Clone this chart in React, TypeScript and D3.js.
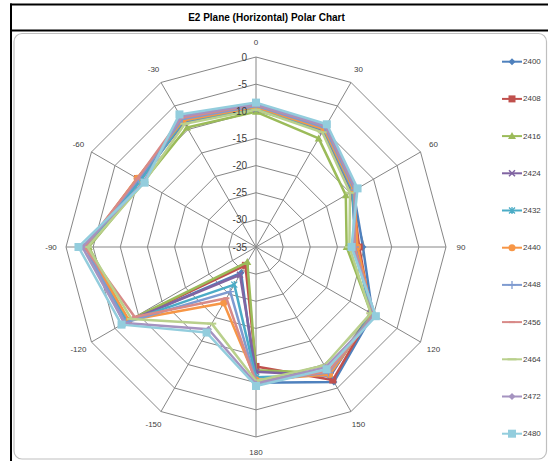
import React from "react";
import * as d3 from "d3";

const categories = ["0", "30", "60", "90", "120", "150", "180", "-150", "-120", "-90", "-60", "-30"];
const radialTicks = [0, -5, -10, -15, -20, -25, -30, -35];
const seriesNames = ["2400", "2408", "2416", "2424", "2432", "2440", "2448", "2456", "2464", "2472", "2480"];

const s2400 = [-9.3, -9.8, -14.3, -15.3, -10.2, -6.3, -10.0, -29.5, -7.0, -3.6, -9.8, -8.0];
const s2408 = [-9.5, -10.2, -14.5, -16.0, -10.5, -6.7, -13.0, -31.1, -7.8, -3.8, -9.8, -8.3];
const s2416 = [-10.1, -11.9, -15.9, -18.3, -10.5, -8.2, -12.3, -31.8, -7.8, -4.2, -11.0, -9.6];
const s2424 = [-9.6, -10.4, -14.6, -16.5, -10.6, -7.6, -12.0, -29.1, -7.6, -3.8, -10.2, -8.5];
const s2432 = [-9.4, -10.0, -14.4, -16.8, -10.4, -7.8, -11.0, -27.0, -7.7, -3.7, -10.5, -8.2];
const s2440 = [-9.2, -9.9, -14.2, -16.3, -10.2, -7.9, -10.5, -23.1, -8.0, -3.6, -9.7, -8.1];
const s2448 = [-9.0, -9.6, -14.0, -16.8, -10.0, -8.3, -10.2, -25.5, -7.2, -3.5, -10.0, -7.8];
const s2456 = [-8.8, -9.3, -13.8, -16.9, -9.8, -8.5, -10.0, -24.1, -9.2, -3.4, -9.8, -7.5];
const s2464 = [-9.7, -10.6, -15.0, -17.8, -10.6, -9.8, -10.3, -18.7, -8.5, -4.0, -11.2, -8.8];
const s2472 = [-8.7, -9.2, -13.7, -17.2, -9.6, -9.4, -9.8, -17.5, -7.0, -3.0, -11.1, -7.2];
const s2480 = [-8.4, -8.9, -13.4, -17.4, -9.5, -9.0, -9.4, -16.8, -6.4, -2.3, -11.3, -6.8];

const seriesValues = [s2400, s2408, s2416, s2424, s2432, s2440, s2448, s2456, s2464, s2472, s2480];
const colors = ["#4F81BD", "#C0504D", "#9BBB59", "#8064A2", "#4BACC6", "#F79646", "#7F9BD0", "#D88A88", "#B9D08C", "#A593C0", "#93CDDD"];
const markers = ["diamond", "square", "triangle", "x", "star", "circle", "plus", "dash", "longdash", "diamond", "bigsquare"];

const CX = 256;
const CY = 247;
const R = 190;

const rScale = d3.scaleLinear().domain([-35, 0]).range([0, R]);
const aScale = d3.scaleLinear().domain([0, categories.length]).range([0, 2 * Math.PI]);

function pt(i: number, v: number): [number, number] {
  const a = aScale(i);
  const r = rScale(v);
  return [CX + r * Math.sin(a), CY - r * Math.cos(a)];
}

function Marker({ kind, x, y, color }: { kind: string; x: number; y: number; color: string }) {
  switch (kind) {
    case "diamond":
      return <path d={`M${x},${y - 3.5}L${x + 3.5},${y}L${x},${y + 3.5}L${x - 3.5},${y}Z`} fill={color} />;
    case "square":
      return <rect x={x - 3.5} y={y - 3.5} width={7} height={7} fill={color} />;
    case "bigsquare":
      return <rect x={x - 4} y={y - 4} width={8} height={8} fill={color} />;
    case "triangle":
      return <path d={`M${x},${y - 4}L${x + 4},${y + 3}L${x - 4},${y + 3}Z`} fill={color} />;
    case "x":
      return (
        <path d={`M${x - 3},${y - 3}L${x + 3},${y + 3}M${x - 3},${y + 3}L${x + 3},${y - 3}`} stroke={color} strokeWidth={1.5} fill="none" />
      );
    case "star":
      return (
        <path
          d={`M${x - 3},${y - 3}L${x + 3},${y + 3}M${x - 3},${y + 3}L${x + 3},${y - 3}M${x},${y - 3.5}L${x},${y + 3.5}`}
          stroke={color}
          strokeWidth={1.3}
          fill="none"
        />
      );
    case "circle":
      return <circle cx={x} cy={y} r={3.5} fill={color} />;
    case "plus":
      return <path d={`M${x - 4},${y}L${x + 4},${y}M${x},${y - 4}L${x},${y + 4}`} stroke={color} strokeWidth={1.3} fill="none" />;
    case "dash":
      return <path d={`M${x - 3},${y}L${x + 3},${y}`} stroke={color} strokeWidth={2} fill="none" />;
    case "longdash":
      return <path d={`M${x - 4.5},${y}L${x + 4.5},${y}`} stroke={color} strokeWidth={2} fill="none" />;
    default:
      return null;
  }
}

export default function App() {
  const n = categories.length;
  const idx = d3.range(n);
  const closedPath = (pts: [number, number][]) =>
    pts.map((p, k) => (k === 0 ? "M" : "L") + p[0] + "," + p[1]).join("") + "Z";
  const ringPath = (v: number) => closedPath(idx.map((i) => pt(i, v)));
  const seriesPath = (vals: number[]) => closedPath(vals.map((v, i) => pt(i, v)));

  const legendX = 512;
  const legendY0 = 61.7;
  const legendStep = 37.2;

  return (
    <svg width={548} height={461} style={{ position: "absolute", left: 0, top: 0 }} fontFamily="'Liberation Sans', Arial, sans-serif">
      <rect x={0} y={0} width={548} height={461} fill="#fff" />
      {/* table frame */}
      <line x1={10} y1={4.5} x2={548} y2={4.5} stroke="#000" strokeWidth={2} />
      <line x1={10} y1={30.5} x2={548} y2={30.5} stroke="#000" strokeWidth={2} />
      <line x1={11} y1={3.5} x2={11} y2={461} stroke="#000" strokeWidth={2} />
      <text x={266.5} y={17.5} textAnchor="middle" dominantBaseline="central" fontSize={10} fontWeight="bold" fill="#000">
        E2 Plane (Horizontal) Polar Chart
      </text>
      {/* chart area */}
      <rect x={14} y={33.5} width={532.5} height={425.5} rx={8} ry={8} fill="#fff" stroke="#BFBFBF" strokeWidth={1.2} />

      {/* grid */}
      <g stroke="#868686" strokeWidth={1} fill="none">
        {radialTicks.filter((t) => t > -35).map((t) => (
          <path key={t} d={ringPath(t)} />
        ))}
        {idx.map((i) => {
          const p = pt(i, 0);
          return <line key={i} x1={CX} y1={CY} x2={p[0]} y2={p[1]} />;
        })}
      </g>

      {/* category labels */}
      <g fontSize={8} fill="#404040">
        {categories.map((c, i) => {
          const a = aScale(i);
          const r = R + 15;
          return (
            <text key={c} x={CX + r * Math.sin(a)} y={CY - r * Math.cos(a)} textAnchor="middle" dominantBaseline="central">
              {c}
            </text>
          );
        })}
      </g>

      {/* series */}
      {seriesValues.map((vals, s) => (
        <g key={seriesNames[s]}>
          <path d={seriesPath(vals)} fill="none" stroke={colors[s]} strokeWidth={2.5} strokeLinejoin="round" />
          {vals.map((v, i) => {
            const p = pt(i, v);
            return <Marker key={i} kind={markers[s]} x={p[0]} y={p[1]} color={colors[s]} />;
          })}
        </g>
      ))}

      {/* radial tick labels */}
      <g fontSize={10} fill="#404040">
        {radialTicks.map((t) => (
          <text key={t} x={CX - 9} y={CY - rScale(t)} textAnchor="end" dominantBaseline="central">
            {t}
          </text>
        ))}
      </g>

      {/* legend */}
      <g fontSize={8} fill="#404040">
        {seriesNames.map((name, s) => {
          const y = legendY0 + s * legendStep;
          return (
            <g key={name}>
              <line x1={legendX - 10} y1={y} x2={legendX + 10} y2={y} stroke={colors[s]} strokeWidth={2} />
              <Marker kind={markers[s]} x={legendX} y={y} color={colors[s]} />
              <text x={legendX + 11} y={y} dominantBaseline="central">
                {name}
              </text>
            </g>
          );
        })}
      </g>
    </svg>
  );
}
